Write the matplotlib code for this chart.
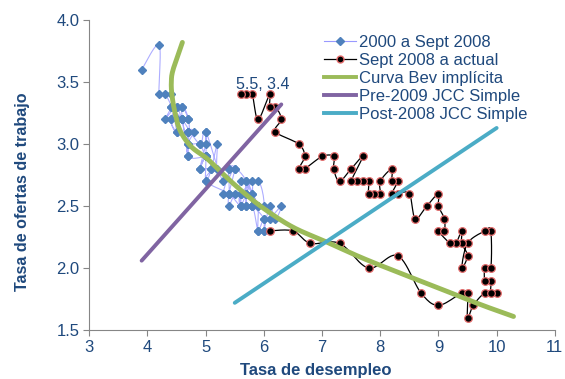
import numpy as np
import matplotlib
matplotlib.use('Agg')
from matplotlib import pyplot as plt
from matplotlib.lines import Line2D

# 2000 a Sept 2008 (unemployment rate, job openings rate)
pre_u = [3.9, 4.2, 4.2, 4.3, 4.4, 4.3, 4.5, 4.6, 4.9, 5.0, 5.3, 5.5, 5.7,
         5.7, 5.7, 5.7, 5.9, 5.8, 5.8, 5.8, 5.7, 5.6, 5.6, 5.9, 6.0,
         5.8, 5.9, 5.9, 6.0, 6.1, 6.3, 6.2, 6.1, 6.0, 6.0, 5.8, 5.7,
         5.7, 5.6, 5.8, 5.6, 5.6, 5.6, 5.5, 5.4, 5.4, 5.5, 5.4, 5.4,
         5.3, 5.4, 5.2, 5.2, 5.1, 5.0, 5.0, 4.9, 5.0, 5.0, 5.0, 4.9,
         4.7, 4.8, 4.7, 4.7, 4.6, 4.6, 4.7, 4.7, 4.5, 4.4, 4.5, 4.4,
         4.6, 4.5, 4.4, 4.5, 4.4, 4.6, 4.7, 4.6, 4.7, 4.7, 4.7, 5.0,
         5.0, 4.9, 5.1, 5.0, 5.4, 5.6, 5.8, 5.9, 6.0]
pre_v = [3.6, 3.8, 3.4, 3.4, 3.3, 3.2, 3.3, 3.2, 3.0, 3.1, 2.7, 2.8, 2.7,
         2.6, 2.5, 2.7, 2.5, 2.6, 2.5, 2.7, 2.6, 2.5, 2.6, 2.7, 2.5,
         2.5, 2.5, 2.3, 2.4, 2.4, 2.5, 2.4, 2.5, 2.3, 2.4, 2.5, 2.5,
         2.6, 2.6, 2.6, 2.7, 2.5, 2.6, 2.6, 2.5, 2.6, 2.8, 2.8, 2.6,
         2.6, 2.8, 2.8, 3.0, 2.8, 2.7, 2.9, 2.8, 3.0, 3.1, 2.9, 3.0,
         3.0, 3.1, 3.1, 2.9, 3.2, 3.3, 3.2, 3.1, 3.1, 3.2, 3.3, 3.3,
         3.2, 3.2, 3.4, 3.1, 3.2, 3.3, 3.2, 3.2, 3.0, 3.1, 2.9, 2.9,
         2.9, 2.8, 2.8, 2.7, 2.6, 2.5, 2.5, 2.3, 2.3]

# Sept 2008 a actual
post_u = [6.1, 6.5, 6.8, 7.3, 7.8, 8.3, 8.7, 9.0, 9.4, 9.5, 9.5, 9.6, 9.8,
          10.0, 9.9, 9.9, 9.8, 9.8, 9.9, 9.9, 9.8, 9.5, 9.4, 9.5, 9.4,
          9.4, 9.3, 9.2, 9.0, 9.1, 9.1, 9.0, 9.0, 8.8, 8.6, 8.5, 8.3,
          8.2, 8.3, 8.2, 8.2, 8.0, 8.0, 7.9, 7.8, 7.8, 7.7, 7.6, 7.5,
          7.7, 7.5, 7.3, 7.2, 7.2, 7.0, 6.7, 6.6, 6.7, 6.6, 6.2, 6.3,
          6.2, 6.1, 6.1, 5.9, 5.8, 5.7, 5.6]
post_v = [2.3, 2.3, 2.2, 2.2, 2.0, 2.1, 1.8, 1.7, 1.8, 1.8, 1.6, 1.7, 1.8,
          1.8, 1.8, 1.9, 1.9, 2.0, 2.0, 2.3, 2.3, 2.2, 2.0, 2.1, 2.2,
          2.3, 2.2, 2.2, 2.3, 2.3, 2.4, 2.5, 2.6, 2.5, 2.4, 2.6, 2.6,
          2.6, 2.7, 2.7, 2.8, 2.7, 2.6, 2.6, 2.6, 2.7, 2.7, 2.7, 2.7,
          2.9, 2.8, 2.7, 2.8, 2.9, 2.9, 2.8, 2.8, 2.9, 3.0, 3.1, 3.2,
          3.3, 3.3, 3.4, 3.2, 3.4, 3.4, 3.4]

# Curva Bev implicita
bev_u = [4.60, 4.44, 4.41, 4.42, 4.47, 4.56, 4.75, 5.02, 5.25, 5.6, 6.0,
         6.5, 7.08, 7.7, 8.34, 9.0, 9.7, 10.29]
bev_v = [3.82, 3.60, 3.50, 3.40, 3.26, 3.11, 2.98, 2.885, 2.78, 2.63, 2.48,
         2.33, 2.21, 2.08, 1.96, 1.84, 1.71, 1.61]

# JCC lines
jcc_pre_u = [3.9, 6.3]
jcc_pre_v = [2.06, 3.32]
jcc_post_u = [5.5, 10.0]
jcc_post_v = [1.72, 3.13]

label_txt = '5.5, 3.4'


def smooth(x, y, n=12):
    # catmull-rom, like the excel smoothed line
    p = np.column_stack([x, y]).astype(float)
    p = np.vstack([p[0], p, p[-1]])
    out = []
    t = np.linspace(0, 1, n, endpoint=False)[:, None]
    for i in range(1, len(p) - 2):
        p0, p1, p2, p3 = p[i - 1], p[i], p[i + 1], p[i + 2]
        seg = 0.5 * ((2 * p1) + (-p0 + p2) * t
                     + (2 * p0 - 5 * p1 + 4 * p2 - p3) * t ** 2
                     + (-p0 + 3 * p1 - 3 * p2 + p3) * t ** 3)
        out.append(seg)
    out.append(p[-2][None, :])
    out = np.vstack(out)
    return out[:, 0], out[:, 1]


plt.rcParams['font.family'] = ['Liberation Sans', 'DejaVu Sans']
txtc = '#1F497D'
axc = '#868686'

fig = plt.figure(figsize=(5.65, 3.79), dpi=100)
ax = fig.add_axes([0.158, 0.129, 0.824, 0.818])

blue = '#4F81BD'
sx, sy = smooth(pre_u, pre_v)
ax.plot(sx, sy, color='#9999FF', lw=0.8, alpha=0.8, zorder=2)
ax.plot(pre_u, pre_v, ls='none', marker='D', ms=4, color=blue, zorder=3)

sx, sy = smooth(post_u, post_v)
ax.plot(sx, sy, color='black', lw=0.9, zorder=4)
ax.plot(post_u, post_v, ls='none', marker='o', ms=5.5, mfc='black',
        mec='#E46C6C', mew=0.9, zorder=5)

gx, gy = smooth(bev_u, bev_v)
green = '#9BBB59'
ax.plot(gx, gy, color=green, lw=3.5, solid_capstyle='round', zorder=6)
purple = '#8064A2'
ax.plot(jcc_pre_u, jcc_pre_v, color=purple, lw=2.8, solid_capstyle='round', zorder=7)
teal = '#4BACC6'
ax.plot(jcc_post_u, jcc_post_v, color=teal, lw=2.8, solid_capstyle='round', zorder=8)

ax.annotate(label_txt, xy=(post_u[-1], post_v[-1]), xytext=(16, 1.5),
            textcoords='offset points', ha='center', va='bottom',
            color=txtc, fontsize=11.5)

ax.set_xlim(3, 11)
ax.set_ylim(1.5, 4.0)
ax.set_xticks(range(3, 12))
ax.set_yticks(np.arange(1.5, 4.01, 0.5))
ax.set_yticklabels(['%.1f' % v for v in np.arange(1.5, 4.01, 0.5)])
for s in ['top', 'right']:
    ax.spines[s].set_visible(False)
for s in ['left', 'bottom']:
    ax.spines[s].set_color(axc)
ax.tick_params(axis='both', colors=axc, labelcolor=txtc, labelsize=12,
               length=4, direction='out')
ax.tick_params(axis='x', pad=3)
ax.tick_params(axis='y', pad=3)

ax.set_xlabel('Tasa de desempleo', fontsize=12, fontweight='bold', color=txtc)
ax.set_ylabel('Tasa de ofertas de trabajo', fontsize=11.6, fontweight='bold',
              color=txtc)
ax.xaxis.set_label_coords(0.487, -0.105)
ax.yaxis.set_label_coords(-0.127, 0.445)

handles = [
    Line2D([], [], color='#9999FF', lw=0.8, marker='D', ms=4, mfc=blue, mec=blue),
    Line2D([], [], color='black', lw=0.9, marker='o', ms=5, mfc='black', mec='#E46C6C'),
    Line2D([], [], color=green, lw=2.8),
    Line2D([], [], color=purple, lw=2.8),
    Line2D([], [], color=teal, lw=2.8),
]
labels = ['2000 a Sept 2008', 'Sept 2008 a actual', 'Curva Bev implícita',
          'Pre-2009 JCC Simple', 'Post-2008 JCC Simple']
leg = ax.legend(handles, labels, loc='upper left', bbox_to_anchor=(0.48, 0.99),
                frameon=False, fontsize=12, handlelength=1.9, handletextpad=0.2,
                labelspacing=0.18, borderpad=0.2)
for t in leg.get_texts():
    t.set_color(txtc)

fig.savefig('out.png', dpi=100)
